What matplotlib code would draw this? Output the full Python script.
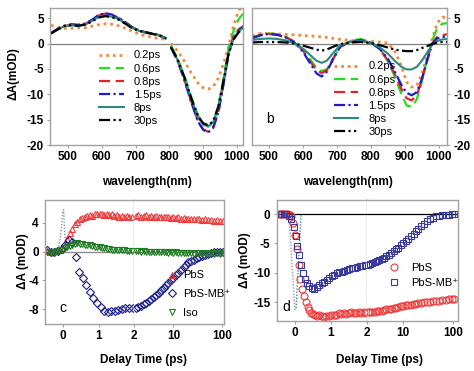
import numpy as np
import matplotlib
matplotlib.use("Agg")
import matplotlib.pyplot as plt
from matplotlib.ticker import FixedLocator, NullLocator

plt.rcParams['font.family'] = ['Liberation Sans', 'DejaVu Sans']

# ---------------- data: panel a ----------------
labels = ["0.2ps", "0.6ps", "0.8ps", "1.5ps", "8ps", "30ps"]

a_wl_vis = [450, 470, 490, 510, 530, 550, 570, 590, 610, 630, 650, 670, 690, 710, 730, 750, 770, 790]
a_vis = {
    "0.2ps": [3.6, 3.2, 3.0, 3.0, 3.1, 3.1, 3.4, 3.7, 3.9, 3.8, 3.5, 3.0, 2.4, 1.9, 1.5, 1.2, 1.0, 0.8],
    "0.6ps": [2.0, 2.8, 3.4, 3.7, 3.6, 3.8, 4.5, 5.4, 5.8, 5.6, 5.0, 4.2, 3.2, 2.6, 2.2, 1.9, 1.7, 1.0],
    "0.8ps": [2.0, 2.8, 3.4, 3.7, 3.6, 3.8, 4.6, 5.5, 5.9, 5.6, 5.0, 4.2, 3.2, 2.6, 2.2, 1.9, 1.6, 1.0],
    "1.5ps": [2.1, 2.9, 3.5, 3.8, 3.7, 3.9, 4.6, 5.6, 6.0, 5.7, 5.0, 4.2, 3.2, 2.6, 2.2, 2.0, 1.7, 1.0],
    "8ps":   [2.0, 2.8, 3.4, 3.6, 3.5, 3.7, 4.4, 5.2, 5.5, 5.3, 4.8, 4.0, 3.1, 2.5, 2.1, 1.9, 1.6, 1.0],
    "30ps":  [2.0, 2.8, 3.5, 3.6, 3.5, 3.7, 4.3, 5.1, 5.4, 5.2, 4.7, 3.9, 3.0, 2.5, 2.2, 1.9, 1.6, 1.0],
}
a_wl_nir = [805, 825, 845, 865, 885, 900, 915, 930, 945, 960, 975, 990, 1005, 1020]
a_nir = {
    "0.2ps": [0.0, -1.5, -3.5, -5.8, -7.8, -8.7, -9.0, -8.5, -6.8, -4.0, -0.8, 3.5, 6.5, 7.5],
    "0.6ps": [-0.5, -3.0, -6.5, -10.5, -14.2, -15.8, -16.4, -15.6, -12.5, -7.0, -1.0, 2.5, 4.8, 6.0],
    "0.8ps": [-0.8, -3.5, -7.2, -11.5, -15.3, -16.9, -17.4, -16.5, -13.5, -8.0, -2.0, 1.5, 2.8, 3.5],
    "1.5ps": [-0.8, -3.5, -7.3, -11.6, -15.4, -17.0, -17.5, -16.6, -13.6, -8.2, -2.2, 1.2, 2.6, 3.3],
    "8ps":   [-0.7, -3.3, -6.8, -10.9, -14.5, -16.0, -16.3, -15.5, -12.6, -7.5, -2.0, 1.0, 2.4, 3.2],
    "30ps":  [-0.7, -3.2, -6.7, -10.8, -14.3, -15.7, -16.1, -15.3, -12.4, -7.5, -2.0, 0.8, 2.2, 3.0],
}

# ---------------- data: panel b ----------------
b_wl = [450, 475, 500, 525, 550, 575, 600, 620, 640, 655, 670, 690, 710, 740, 770, 800,
        825, 850, 870, 890, 905, 920, 935, 950, 965, 980, 995, 1010, 1025]
b_spec = {
    "0.2ps": [1.5, 2.0, 2.0, 1.9, 1.8, 1.7, 1.6, 1.5, 1.4, 1.3, 1.2, 1.0, 0.8, 0.6, 0.5, 0.4,
              0.3, 0.1, -1.5, -4.5, -7.6, -8.6, -8.3, -6.0, -2.5, 0.8, 4.0, 5.2, 5.0],
    "0.6ps": [1.2, 1.7, 2.0, 1.8, 1.3, 0.4, -1.2, -3.0, -4.8, -5.4, -5.1, -2.8, -0.6, 0.5, 0.9, 0.3,
              -1.0, -3.5, -6.5, -10.0, -12.2, -12.5, -11.0, -7.5, -3.2, 0.5, 3.0, 3.9, 4.0],
    "0.8ps": [1.2, 1.7, 1.9, 1.7, 1.2, 0.3, -1.4, -3.4, -5.3, -5.8, -5.3, -2.9, -0.6, 0.4, 0.7, 0.2,
              -1.0, -3.3, -6.0, -9.0, -10.8, -11.2, -10.2, -7.2, -3.3, 0.0, 1.3, 1.7, 1.8],
    "1.5ps": [1.0, 1.6, 1.9, 1.7, 1.2, 0.2, -1.6, -3.8, -5.9, -6.5, -5.6, -2.9, -0.6, 0.4, 0.6, 0.1,
              -1.0, -3.0, -5.5, -8.2, -9.7, -10.2, -9.6, -7.0, -3.5, -0.2, 1.0, 1.3, 1.4],
    "8ps":   [0.7, 0.9, 1.0, 0.9, 0.6, 0.0, -1.0, -2.2, -3.4, -3.8, -3.4, -1.8, -0.3, 0.3, 0.5, 0.1,
              -0.7, -2.0, -3.4, -4.6, -5.1, -5.1, -4.6, -3.4, -1.8, -0.3, 0.5, 0.8, 0.9],
    "30ps":  [0.2, 0.3, 0.3, 0.3, 0.2, 0.0, -0.4, -0.8, -1.2, -1.4, -1.2, -0.6, -0.1, 0.2, 0.3, 0.1,
              -0.3, -0.8, -1.2, -1.4, -1.5, -1.5, -1.3, -0.9, -0.5, -0.1, 0.2, 0.3, 0.3],
}

# ---------------- data: panel c (kinetics) ----------------
c_t_lin = [-0.45, -0.38, -0.31, -0.24, -0.17, -0.1, -0.03, 0.04, 0.11, 0.18, 0.25, 0.32, 0.39, 0.46,
           0.53, 0.6, 0.67, 0.74, 0.81, 0.88, 0.95, 1.02, 1.09, 1.16, 1.23, 1.3, 1.37, 1.44, 1.51,
           1.58, 1.65, 1.72, 1.79, 1.86, 1.93]
c_pbs_lin = [0.1, 0.0, 0.0, 0.1, 0.2, 0.3, 0.5, 1.0, 1.8, 2.6, 3.2, 3.8, 4.2, 4.5, 4.7, 4.9, 5.0, 5.1,
             5.0, 5.2, 5.3, 5.2, 5.3, 5.1, 5.2, 5.1, 5.2, 5.0, 5.1, 4.9, 5.0, 4.9, 5.0, 4.8, 4.9]
c_iso_lin = [0.0, -0.1, -0.1, 0.0, 0.1, 0.2, 0.3, 0.5, 0.6, 0.8, 1.0, 1.1, 1.2, 1.1, 1.1, 1.0, 0.9, 0.9,
             0.8, 0.7, 0.7, 0.6, 0.5, 0.5, 0.4, 0.4, 0.3, 0.3, 0.3, 0.2, 0.2, 0.2, 0.1, 0.1, 0.1]
c_t_mb_lin = [-0.45, -0.35, -0.25, -0.15, -0.05, 0.05, 0.15, 0.25, 0.35, 0.45, 0.55, 0.65, 0.75, 0.85,
              0.95, 1.05, 1.15, 1.25, 1.35, 1.45, 1.55, 1.65, 1.75, 1.85, 1.95]
c_mb_lin = [0.3, 0.0, -0.1, 0.1, 0.4, 1.0, 1.6, 1.3, -0.8, -2.8, -3.6, -4.6, -5.6, -6.4, -7.1, -7.7,
            -8.2, -8.4, -8.3, -8.3, -8.1, -8.0, -7.9, -7.9, -7.8]

t_log = [2.1, 2.3, 2.5, 2.8, 3.1, 3.4, 3.8, 4.2, 4.7, 5.2, 5.8, 6.5, 7.2, 8.0, 9.0, 10, 11.2, 12.5,
         14, 16, 18, 20, 23, 26, 30, 34, 39, 45, 52, 60, 70, 80, 92, 105]
c_pbs_log = [5.0, 5.1, 4.9, 5.0, 5.1, 4.9, 5.0, 4.9, 5.0, 4.8, 4.9, 4.9, 4.8, 4.9, 4.7, 4.8, 4.7, 4.8,
             4.6, 4.7, 4.6, 4.6, 4.5, 4.6, 4.5, 4.5, 4.4, 4.5, 4.4, 4.4, 4.3, 4.4, 4.3, 4.3]
c_mb_log = [-7.8, -7.7, -7.5, -7.3, -7.1, -6.9, -6.6, -6.3, -6.0, -5.7, -5.3, -5.0, -4.6, -4.3, -3.9,
            -3.6, -3.2, -2.9, -2.5, -2.1, -1.8, -1.5, -1.3, -1.1, -0.9, -0.7, -0.6, -0.4, -0.3, -0.2,
            -0.1, -0.1, -0.1, -0.1]
c_iso_log = [0.1, 0.1, 0.0, 0.1, 0.0, 0.0, 0.0, -0.1, 0.0, -0.1, -0.1, -0.1, -0.1, -0.2, -0.1, -0.2,
             -0.1, -0.2, -0.2, -0.2, -0.2, -0.2, -0.2, -0.3, -0.2, -0.2, -0.3, -0.2, -0.3, -0.2, -0.3,
             -0.2, -0.3, -0.2]
c_pulse_t = [-0.14, -0.07, -0.01, 0.01, 0.04, 0.08]
c_pulse = [0.3, 2.5, 5.8, 5.8, 2.5, 0.3]

# ---------------- data: panel d (kinetics) ----------------
d_t_lin = [-0.45, -0.4, -0.35, -0.3, -0.25, -0.2, -0.15, -0.1, -0.05, 0.0, 0.05, 0.1, 0.15, 0.2, 0.25,
           0.3, 0.35, 0.4, 0.45, 0.5, 0.56, 0.62, 0.68, 0.74, 0.8, 0.87, 0.94, 1.01, 1.08, 1.15, 1.22,
           1.29, 1.36, 1.43, 1.5, 1.57, 1.64, 1.71, 1.78, 1.85, 1.92, 1.99]
d_pbs_lin = [0.0, 0.0, 0.0, 0.0, 0.0, 0.0, -0.1, -0.4, -1.5, -3.5, -6.0, -8.6, -11.0, -12.8, -14.0,
             -15.0, -15.8, -16.3, -16.8, -17.0, -17.1, -17.3, -17.1, -17.4, -17.5, -17.3, -17.4, -17.2,
             -17.1, -17.2, -16.9, -17.0, -16.8, -17.0, -16.9, -16.7, -16.9, -16.8, -16.7, -16.9, -16.7,
             -16.8]
d_t_mb_lin = [-0.45, -0.38, -0.31, -0.24, -0.17, -0.1, -0.03, 0.02, 0.07, 0.12, 0.17, 0.22, 0.28, 0.34,
              0.4, 0.47, 0.54, 0.61, 0.68, 0.75, 0.82, 0.89, 0.96, 1.03, 1.1, 1.17, 1.24, 1.31, 1.38,
              1.45, 1.52, 1.59, 1.66, 1.73, 1.8, 1.87, 1.94]
d_mb_lin = [0.0, 0.0, 0.1, 0.0, -0.3, -0.8, -2.2, -3.8, -5.5, -7.0, -8.6, -10.0, -11.0, -11.8, -12.3,
            -12.6, -12.7, -12.4, -12.1, -11.8, -11.6, -11.2, -10.9, -10.6, -10.3, -10.1, -9.9, -9.8,
            -9.6, -9.5, -9.3, -9.2, -9.1, -9.0, -8.9, -8.8, -8.7]
d_pbs_log = [-16.7, -16.7, -16.6, -16.6, -16.5, -16.5, -16.4, -16.3, -16.2, -16.1, -16.1, -16.0, -15.9,
             -15.8, -15.7, -15.6, -15.5, -15.5, -15.4, -15.3, -15.3, -15.2, -15.1, -15.0, -15.0, -14.9,
             -14.8, -14.8, -14.7, -14.6, -14.6, -14.5, -14.4, -14.4]
d_mb_log = [-8.6, -8.5, -8.4, -8.2, -8.0, -7.8, -7.6, -7.4, -7.1, -6.9, -6.6, -6.3, -6.0, -5.7, -5.3,
            -5.0, -4.6, -4.2, -3.8, -3.3, -2.9, -2.5, -2.0, -1.6, -1.2, -0.9, -0.6, -0.4, -0.3, -0.2,
            -0.1, -0.1, 0.0, 0.0]
d_pulse_left_t = [-0.17, 0.0]
d_pulse_left = [0.0, -16.6]
d_pulse_right_t = [0.03, 0.17]
d_pulse_right = [-16.0, 0.0]

# ---------------- styling ----------------
W, H = 474, 371
GRAY = "#a3a3a3"
FS_TICK = 8.5
FS_LAB = 8.5
FS_LEG = 8

line_styles = {
    "0.2ps": dict(color="#f28a3c", ls=(0, (1, 1.4)), lw=2.0),
    "0.6ps": dict(color="#22dd22", ls=(0, (5, 2.5)), lw=1.6),
    "0.8ps": dict(color="#e8202a", ls=(0, (5, 2.5)), lw=1.6),
    "1.5ps": dict(color="#1c1ccc", ls=(0, (5, 1.5, 1, 1.5)), lw=1.6),
    "8ps": dict(color="#2a8a7e", ls="-", lw=1.5),
    "30ps": dict(color="black", ls=(0, (5, 1.5, 1, 1.5, 1, 1.5)), lw=1.6),
}


def box(l, r, t, b):
    return [l / W, 1 - b / H, (r - l) / W, (b - t) / H]


def style(ax):
    for s in ax.spines.values():
        s.set_color(GRAY)
        s.set_linewidth(1.0)
    ax.tick_params(colors=GRAY, labelcolor="black", length=2.5, width=0.8,
                   labelsize=FS_TICK, pad=2)
    ax.xaxis.set_minor_locator(NullLocator())
    ax.yaxis.set_minor_locator(NullLocator())


def set_ticks(ax, axis, ticks):
    labs = [str(t) for t in ticks]
    if axis == "x":
        ax.set_xticks(ticks, labs, fontweight="bold", fontsize=FS_TICK)
    else:
        ax.set_yticks(ticks, labs, fontweight="bold", fontsize=FS_TICK)


def offset_log(t0):
    fwd = lambda t: np.log10(np.maximum(np.asarray(t, float) - t0, 1e-9))
    inv = lambda y: 10 ** np.asarray(y, float) + t0
    return fwd, inv


fig = plt.figure(figsize=(W / 100, H / 100), dpi=100)

# ---------------- panel a ----------------
ax_a = fig.add_axes(box(50, 243, 8, 145))
style(ax_a)
ax_a.axhline(0, color="#7f7f7f", lw=0.9, zorder=1)
for lab in labels:
    ax_a.plot(a_wl_vis, a_vis[lab], label=lab, **line_styles[lab])
    ax_a.plot(a_wl_nir, a_nir[lab], **line_styles[lab])
ax_a.set_xlim(447, 1018)
ax_a.set_ylim(-20, 7)
set_ticks(ax_a, "x", [500, 600, 700, 800, 900, 1000])
set_ticks(ax_a, "y", [5, 0, -5, -10, -15, -20])
ax_a.legend(loc="upper left", bbox_to_anchor=(0.255, 0.69), frameon=False, fontsize=FS_LEG,
            handlelength=2.2, handletextpad=0.9, labelspacing=0.28, borderpad=0, borderaxespad=0)
ax_a.text(68, -14.6, "a", fontsize=10, ha="center", va="center")

# ---------------- panel b ----------------
ax_b = fig.add_axes(box(252, 447, 8, 145))
style(ax_b)
ax_b.axhline(0, color="#7f7f7f", lw=0.9, zorder=1)
for lab in labels:
    ax_b.plot(b_wl, b_spec[lab], label=lab, **line_styles[lab])
ax_b.set_xlim(450, 1024)
ax_b.set_ylim(-20, 7)
ax_b.yaxis.tick_right()
set_ticks(ax_b, "x", [500, 600, 700, 800, 900, 1000])
set_ticks(ax_b, "y", [5, 0, -5, -10, -15, -20])
ax_b.legend(loc="upper left", bbox_to_anchor=(0.42, 0.61), frameon=False, fontsize=FS_LEG,
            handlelength=2.2, handletextpad=0.9, labelspacing=0.28, borderpad=0, borderaxespad=0)
ax_b.text(0.093, 0.19, "b", transform=ax_b.transAxes, fontsize=10, ha="center", va="center")

fig.text(13 / W, 1 - 74 / H, "ΔA(mOD)", rotation=90, ha="center", va="center",
         fontsize=FS_LAB, fontweight="bold")
fig.text(147 / W, 1 - 182 / H, "wavelength(nm)", ha="center", va="center",
         fontsize=FS_LAB, fontweight="bold")
fig.text(348 / W, 1 - 182 / H, "wavelength(nm)", ha="center", va="center",
         fontsize=FS_LAB, fontweight="bold")

# ---------------- panel c ----------------
RED = "#ee3a3a"
NAVY = "#1f1f8a"
GREEN = "#1e7d1e"
mk = dict(ls="none", mfc="none", mew=0.8)

cl = fig.add_axes(box(45, 134.3, 200, 323.5))
cr = fig.add_axes(box(134.3, 224.3, 200, 323.5), sharey=cl)
for ax in (cl, cr):
    style(ax)
    ax.axhline(0, color="#8c8c8c", lw=1.0, zorder=1)
cl.plot(c_pulse_t, c_pulse, ls=(0, (1, 1.2)), color="#7f97a8", lw=1.0)
cl.plot(c_t_lin, c_pbs_lin, marker="^", ms=5, mec=RED, **mk)
cl.plot(c_t_mb_lin, c_mb_lin, marker="D", ms=4.5, mec=NAVY, **mk)
cl.plot(c_t_lin, c_iso_lin, marker="v", ms=5, mec=GREEN, **mk)
cr.plot(t_log, c_pbs_log, marker="^", ms=5, mec=RED, label="PbS", **mk)
cr.plot(t_log, c_mb_log, marker="D", ms=4.5, mec=NAVY, label="PbS-MB⁺", **mk)
cr.plot(t_log, c_iso_log, marker="v", ms=5, mec=GREEN, label="Iso", **mk)
cl.set_xlim(-0.515, 2)
cl.set_ylim(-10, 7.2)
set_ticks(cl, "x", [0, 1, 2])
set_ticks(cl, "y", [4, 0, -4, -8])
cr.set_xscale("function", functions=offset_log(0.6))
cr.set_xlim(2, 113)
cr.xaxis.set_major_locator(FixedLocator([10, 100]))
set_ticks(cr, "x", [10, 100])
cr.xaxis.set_minor_locator(NullLocator())
cr.spines["left"].set_visible(False)
cr.tick_params(axis="y", left=False, labelleft=False)
cr.legend(loc="upper left", bbox_to_anchor=(0.36, 0.43), frameon=False, fontsize=FS_LEG,
          handlelength=1.0, handletextpad=0.5, labelspacing=0.8, borderpad=0, borderaxespad=0)
cl.text(0.0, -7.9, "c", fontsize=10, ha="center", va="center")

# ---------------- panel d ----------------
dl = fig.add_axes(box(276.7, 366.7, 200, 320.5))
dr = fig.add_axes(box(366.7, 458, 200, 320.5), sharey=dl)
for ax in (dl, dr):
    style(ax)
    ax.axhline(0, color="black", lw=0.9, zorder=1)
dl.plot(d_pulse_left_t, d_pulse_left, ls=(0, (1, 1.2)), color="#8a9aa8", lw=1.0)
dl.plot(d_pulse_right_t, d_pulse_right, ls=(0, (1, 1.2)), color="#3c8a80", lw=1.0)
dl.plot(d_t_lin, d_pbs_lin, marker="o", ms=5, mec=RED, **mk)
dl.plot(d_t_mb_lin, d_mb_lin, marker="s", ms=5, mec="#3a3a9c", **mk)
dr.plot(t_log, d_pbs_log, marker="o", ms=5, mec=RED, label="PbS", **mk)
dr.plot(t_log, d_mb_log, marker="s", ms=5, mec="#3a3a9c", label="PbS-MB⁺", **mk)
dl.set_xlim(-0.51, 2)
dl.set_ylim(-18.1, 2.4)
set_ticks(dl, "x", [0, 1, 2])
set_ticks(dl, "y", [0, -5, -10, -15])
dr.set_xscale("function", functions=offset_log(0.2))
dr.set_xlim(2, 124)
dr.xaxis.set_major_locator(FixedLocator([10, 100]))
set_ticks(dr, "x", [10, 100])
dr.xaxis.set_minor_locator(NullLocator())
dr.spines["left"].set_visible(False)
dr.tick_params(axis="y", left=False, labelleft=False)
dr.legend(loc="upper left", bbox_to_anchor=(0.24, 0.48), frameon=False, fontsize=FS_LEG,
          handlelength=1.0, handletextpad=1.0, labelspacing=0.5, borderpad=0, borderaxespad=0)
dl.text(-0.25, -15.8, "d", fontsize=10, ha="center", va="center")

fig.text(23 / W, 1 - 261 / H, "ΔA (mOD)", rotation=90, ha="center", va="center",
         fontsize=FS_LAB, fontweight="bold")
fig.text(245 / W, 1 - 260 / H, "ΔA (mOD)", rotation=90, ha="center", va="center",
         fontsize=FS_LAB, fontweight="bold")
fig.text(143 / W, 1 - 360 / H, "Delay Time (ps)", ha="center", va="center",
         fontsize=FS_LAB, fontweight="bold")
fig.text(380 / W, 1 - 360 / H, "Delay Time (ps)", ha="center", va="center",
         fontsize=FS_LAB, fontweight="bold")

fig.savefig("out.png", dpi=100)
